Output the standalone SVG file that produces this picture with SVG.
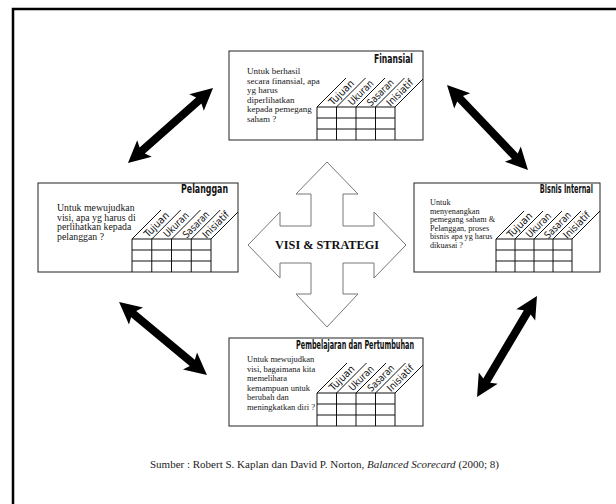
<svg xmlns="http://www.w3.org/2000/svg" width="616" height="504" viewBox="0 0 616 504">
<style>
.box{fill:#fff;stroke:#222;stroke-width:1}
.grid{fill:none;stroke:#111;stroke-width:1}
.body{font-family:"Liberation Serif","Times New Roman",serif;font-size:9px;fill:#151515}
.small{font-size:8.2px}
.mid{font-size:8.5px}
.big{font-size:9.8px}
.title{font-family:"Liberation Sans Narrow","DejaVu Sans Condensed","Liberation Sans",sans-serif;font-weight:bold;font-size:11.5px;text-anchor:end;fill:#111}
.col{font-family:"Liberation Sans Narrow","DejaVu Sans Condensed","Liberation Sans",sans-serif;font-size:10px;text-anchor:middle;fill:#111}
.arrow{fill:#000}
.cross{fill:#fff;stroke:#777;stroke-width:1}
.cap{font-family:"Liberation Serif","Times New Roman",serif;font-size:11px;fill:#222}
</style>
<rect width="616" height="504" fill="#fff"/>
<rect id="frame" x="13" y="9" width="620" height="520" fill="none" stroke="#000" stroke-width="2.5"/>

<g id="connectors">
<path class="arrow" transform="translate(170.5 125.5) rotate(-41.4)" d="M-56.7 0 L-34.7 -11 L-37.7 -4 L37.7 -4 L34.7 -11 L56.7 0 L34.7 11 L37.7 4 L-37.7 4 L-34.7 11 Z"/>
<path class="arrow" transform="translate(487.5 127.5) rotate(46.4)" d="M-58.7 0 L-36.7 -11 L-39.7 -4 L39.7 -4 L36.7 -11 L58.7 0 L36.7 11 L39.7 4 L-39.7 4 L-36.7 11 Z"/>
<path class="arrow" transform="translate(163 338.5) rotate(39.7)" d="M-57.1 0 L-35.1 -11 L-38.1 -4 L38.1 -4 L35.1 -11 L57.1 0 L35.1 11 L38.1 4 L-38.1 4 L-35.1 11 Z"/>
<path class="arrow" transform="translate(507 346.5) rotate(120.7)" d="M-58.7 0 L-36.7 -11 L-39.7 -4 L39.7 -4 L36.7 -11 L58.7 0 L36.7 11 L39.7 4 L-39.7 4 L-36.7 11 Z"/>
</g>

<g id="node-visi">
<polygon class="cross" points="327,162 358,194 343,194 343,226 374,226 374,212 406,245 374,278 374,263 343,263 343,294 358,294 327,327 296,294 311,294 311,263 280,263 280,278 248,245 280,212 280,226 311,226 311,194 296,194"/>
<text x="327" y="249" text-anchor="middle" font-family="'Liberation Serif','Times New Roman',serif" font-weight="bold" font-size="12" fill="#111" textLength="104" lengthAdjust="spacingAndGlyphs">VISI &amp; STRATEGI</text>
</g>

<g id="node-finansial">
<rect class="box" x="229" y="51" width="194" height="89"/>
<text class="title" x="413" y="63" textLength="39" lengthAdjust="spacingAndGlyphs">Finansial</text>
<text class="body"><tspan x="247" y="74">Untuk berhasil</tspan><tspan x="247" y="83.6">secara finansial, apa</tspan><tspan x="247" y="93.2">yg harus</tspan><tspan x="247" y="102.8">diperlihatkan</tspan><tspan x="247" y="112.4">kepada pemegang</tspan><tspan x="247" y="122">saham ?</tspan></text>
<path class="grid" d="M317 107V140M336.5 107V140M356 107V140M375.5 107V140M395 107V140M317 107H395M317 118H395M317 129H395M317 107l29 -29M336.5 107l29 -29M356 107l29 -29M375.5 107l29 -29M395 107l28 -28"/>
<text class="col" x="341.25" y="96" transform="rotate(-45 341.25 92.5)" textLength="31" lengthAdjust="spacingAndGlyphs">Tujuan</text>
<text class="col" x="360.75" y="96" transform="rotate(-45 360.75 92.5)" textLength="31" lengthAdjust="spacingAndGlyphs">Ukuran</text>
<text class="col" x="380.25" y="96" transform="rotate(-45 380.25 92.5)" textLength="33" lengthAdjust="spacingAndGlyphs">Sasaran</text>
<text class="col" x="399.75" y="96" transform="rotate(-45 399.75 92.5)" textLength="33" lengthAdjust="spacingAndGlyphs">Inisiatif</text>
</g>

<g id="node-pelanggan">
<rect class="box" x="38" y="183" width="200" height="89"/>
<text class="title" x="228" y="193" textLength="47" lengthAdjust="spacingAndGlyphs">Pelanggan</text>
<text class="body big"><tspan x="57" y="211">Untuk mewujudkan</tspan><tspan x="57" y="220.5">visi, apa yg harus di</tspan><tspan x="57" y="230">perlihatkan kepada</tspan><tspan x="57" y="239.5">pelanggan ?</tspan></text>
<path class="grid" d="M132 239V272M151.75 239V272M171.5 239V272M191.25 239V272M211 239V272M132 239H211M132 250H211M132 261H211M132 239l29 -29M151.75 239l29 -29M171.5 239l29 -29M191.25 239l29 -29M211 239l27 -27"/>
<text class="col" x="156.4" y="228" transform="rotate(-45 156.4 224.5)" textLength="31" lengthAdjust="spacingAndGlyphs">Tujuan</text>
<text class="col" x="176.1" y="228" transform="rotate(-45 176.1 224.5)" textLength="31" lengthAdjust="spacingAndGlyphs">Ukuran</text>
<text class="col" x="195.9" y="228" transform="rotate(-45 195.9 224.5)" textLength="33" lengthAdjust="spacingAndGlyphs">Sasaran</text>
<text class="col" x="215.6" y="228" transform="rotate(-45 215.6 224.5)" textLength="33" lengthAdjust="spacingAndGlyphs">Inisiatif</text>
</g>

<g id="node-bisnis">
<rect class="box" x="414" y="183" width="186" height="89"/>
<text class="title" x="0" y="0" transform="translate(593 193) scale(0.63 1)">Bisnis Internal</text>
<text class="body small"><tspan x="430" y="205">Untuk</tspan><tspan x="430" y="213.5">menyenangkan</tspan><tspan x="430" y="222">pemegang saham &amp;</tspan><tspan x="430" y="230.5">Pelanggan, proses</tspan><tspan x="430" y="239">bisnis apa yg harus</tspan><tspan x="430" y="247.5">dikuasai ?</tspan></text>
<path class="grid" d="M496 239V272M515 239V272M534 239V272M553 239V272M572 239V272M496 239H572M496 250H572M496 261H572M496 239l28 -28M515 239l28 -28M534 239l28 -28M553 239l28 -28M572 239l28 -28"/>
<text class="col" x="519.5" y="228.5" transform="rotate(-45 519.5 225)" textLength="31" lengthAdjust="spacingAndGlyphs">Tujuan</text>
<text class="col" x="538.5" y="228.5" transform="rotate(-45 538.5 225)" textLength="31" lengthAdjust="spacingAndGlyphs">Ukuran</text>
<text class="col" x="557.5" y="228.5" transform="rotate(-45 557.5 225)" textLength="33" lengthAdjust="spacingAndGlyphs">Sasaran</text>
<text class="col" x="576.5" y="228.5" transform="rotate(-45 576.5 225)" textLength="33" lengthAdjust="spacingAndGlyphs">Inisiatif</text>
</g>

<g id="node-pembelajaran">
<rect class="box" x="229" y="338" width="194" height="88"/>
<text class="title" x="414" y="349" textLength="118" lengthAdjust="spacingAndGlyphs">Pembelajaran dan Pertumbuhan</text>
<text class="body mid"><tspan x="247" y="362">Untuk mewujudkan</tspan><tspan x="247" y="371.5">visi, bagaimana kita</tspan><tspan x="247" y="381">memelihara</tspan><tspan x="247" y="390.5">kemampuan untuk</tspan><tspan x="247" y="400">berubah dan</tspan><tspan x="247" y="409.5">meningkatkan diri ?</tspan></text>
<path class="grid" d="M317 393V426M336.5 393V426M356 393V426M375.5 393V426M395 393V426M317 393H395M317 404H395M317 415H395M317 393l30 -30M336.5 393l30 -30M356 393l30 -30M375.5 393l30 -30M395 393l28 -28"/>
<text class="col" x="341.75" y="381.5" transform="rotate(-45 341.75 378)" textLength="31" lengthAdjust="spacingAndGlyphs">Tujuan</text>
<text class="col" x="361.25" y="381.5" transform="rotate(-45 361.25 378)" textLength="31" lengthAdjust="spacingAndGlyphs">Ukuran</text>
<text class="col" x="380.75" y="381.5" transform="rotate(-45 380.75 378)" textLength="33" lengthAdjust="spacingAndGlyphs">Sasaran</text>
<text class="col" x="400.25" y="381.5" transform="rotate(-45 400.25 378)" textLength="33" lengthAdjust="spacingAndGlyphs">Inisiatif</text>
</g>

<text id="caption" class="cap" x="150" y="468">Sumber : Robert S. Kaplan dan David P. Norton, <tspan font-style="italic">Balanced Scorecard</tspan> (2000; 8)</text>
</svg>
